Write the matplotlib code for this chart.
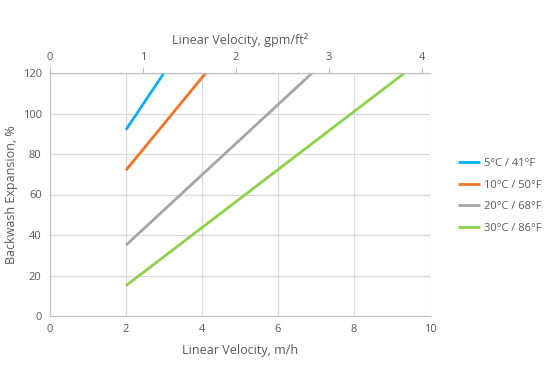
import matplotlib
matplotlib.use("Agg")
import matplotlib.pyplot as plt

# data
labels = ["5°C / 41°F", "10°C / 50°F", "20°C / 68°F", "30°C / 86°F"]
colors = ["#00b0f0", "#f07524", "#a5a5a5", "#8dd14a"]
x_5 = [2.0, 3.0]
y_5 = [92, 120]
x_10 = [2.0, 4.1]
y_10 = [72, 120]
x_20 = [2.0, 6.9]
y_20 = [35, 120]
x_30 = [2.0, 9.33]
y_30 = [15, 120]
series = [(x_5, y_5), (x_10, y_10), (x_20, y_20), (x_30, y_30)]
GPM = 2.445  # m/h per gpm/ft2

plt.rcParams['font.family'] = ['Open Sans', 'DejaVu Sans']
txt = "#595959"
grid = "#d9d9d9"

fig = plt.figure(figsize=(5.48, 3.86), dpi=100)
ax = fig.add_axes([50/548, 1-316/386, 380/548, 243/386])

for (xs, ys), c, l in zip(series, colors, labels):
    ax.plot(xs, ys, color=c, lw=2, label=l, solid_capstyle='butt')

ax.set_xlim(0, 10)
ax.set_ylim(0, 120)
ax.set_xticks([0, 2, 4, 6, 8, 10])
ax.set_yticks([0, 20, 40, 60, 80, 100, 120])
ax.grid(True, color=grid, lw=0.9)
ax.set_axisbelow(True)
for s in ['right']:
    ax.spines[s].set_visible(False)
for s in ['left', 'bottom', 'top']:
    ax.spines[s].set_color("#bfbfbf")
ax.tick_params(axis='both', length=0, colors=txt, labelsize=8, pad=6)
ax.set_xlabel("Linear Velocity, m/h", color=txt, fontsize=9, labelpad=6)
ax.set_ylabel("Backwash Expansion, %", color=txt, fontsize=9, labelpad=3)

sec = ax.secondary_xaxis('top', functions=(lambda v: v / GPM, lambda v: v * GPM))
sec.set_xticks([0, 1, 2, 3, 4])
sec.tick_params(axis='x', length=4, color="#bfbfbf", colors=txt, labelsize=8, pad=3)
sec.spines['top'].set_color("#bfbfbf")
sec.set_xlabel("Linear Velocity, gpm/ft²", color=txt, fontsize=9, labelpad=6)

leg = fig.legend(loc='upper left', bbox_to_anchor=(448/548, 1-148/386), frameon=False,
                 fontsize=8, labelcolor=txt, handlelength=2.0, handletextpad=0.3,
                 labelspacing=0.95)

fig.savefig("out.png", dpi=100)
